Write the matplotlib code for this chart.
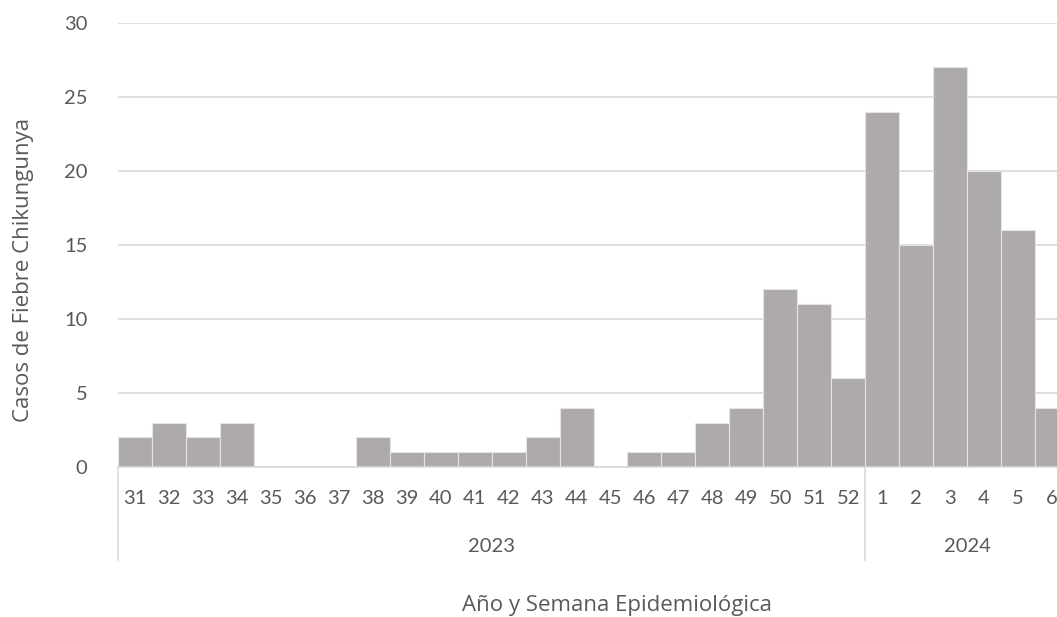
import matplotlib
matplotlib.use("Agg")
import matplotlib.pyplot as plt
import matplotlib.transforms as mtransforms

weeks = ["31", "32", "33", "34", "35", "36", "37", "38", "39", "40", "41",
         "42", "43", "44", "45", "46", "47", "48", "49", "50", "51", "52",
         "1", "2", "3", "4", "5", "6"]
cases = [2, 3, 2, 3, 0, 0, 0, 2, 1, 1, 1, 1, 2, 4, 0, 1, 1, 3, 4, 12, 11, 6,
         24, 15, 27, 20, 16, 4]
years = ["2023", "2024"]
year_counts = [22, 6]

W, H = 1057, 617
fig = plt.figure(figsize=(W / 100, H / 100), dpi=100)
left_px, right_px, top_px, bot_px = 118, 1069, 23, 467
ax = fig.add_axes([left_px / W, (H - bot_px) / H,
                   (right_px - left_px) / W, (bot_px - top_px) / H])

txt_col = "#595959"
tick_font = "Lato"
title_font = "Open Sans"
tick_size = 14.5

x = list(range(len(weeks)))
ax.bar(x, cases, width=1.0, color="#AEAAAA", edgecolor="#E4E4E4",
       linewidth=0.8, zorder=3)
ax.set_xlim(-0.5, len(weeks) - 0.5)
ax.set_ylim(0, 30)
ax.set_yticks([0, 5, 10, 15, 20, 25, 30])
ax.grid(axis="y", color="#D9D9D9", linewidth=1.2, zorder=0)
ax.tick_params(axis="y", length=0, pad=22, labelsize=tick_size,
               labelcolor=txt_col)
for lab in ax.get_yticklabels():
    lab.set_fontfamily(tick_font)
ax.set_xticks([])
for s in ["top", "right", "left"]:
    ax.spines[s].set_visible(False)
ax.spines["bottom"].set_color("#D9D9D9")
ax.spines["bottom"].set_linewidth(1.2)
ax.spines["bottom"].set_zorder(4)

ph = bot_px - top_px
trans = mtransforms.blended_transform_factory(ax.transData, ax.transAxes)
for xi, w in zip(x, weeks):
    ax.text(xi, -31 / ph, w, transform=trans, ha="center", va="center",
            fontsize=tick_size, color=txt_col, fontfamily=tick_font,
            clip_on=False)

start = 0
bounds = [-0.5]
for yr, n in zip(years, year_counts):
    centre = start + (n - 1) / 2
    ax.text(centre, -79 / ph, yr, transform=trans, ha="center", va="center",
            fontsize=tick_size, color=txt_col, fontfamily=tick_font,
            clip_on=False)
    start += n
    bounds.append(start - 0.5)
for b in bounds:
    ax.plot([b, b], [0, -93 / ph], transform=trans, color="#D9D9D9",
            linewidth=1.2, clip_on=False)

fig.text(617 / W, 1 - 605 / H, "Año y Semana Epidemiológica", ha="center",
         va="center", fontsize=16, color=txt_col, fontfamily=title_font)
fig.text(24 / W, 1 - 270 / H, "Casos de Fiebre Chikungunya", ha="center",
         va="center", rotation=90, fontsize=16, color=txt_col,
         fontfamily=title_font)

fig.savefig("out.png", dpi=100, facecolor="white")
